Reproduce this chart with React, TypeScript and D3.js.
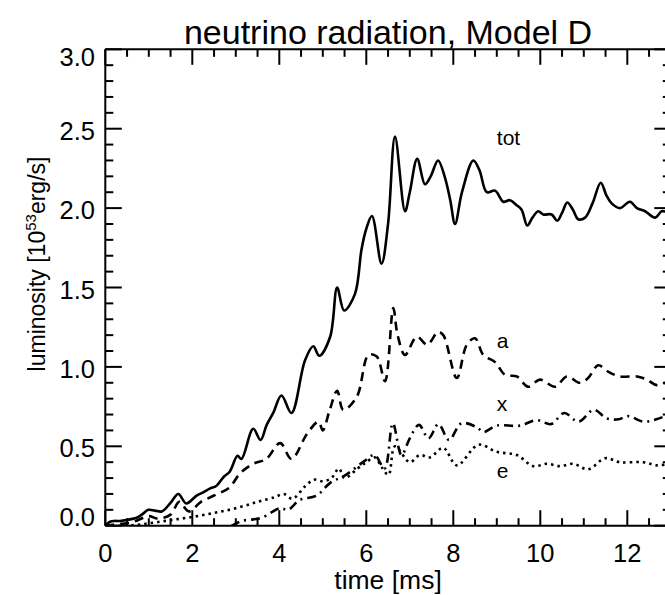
import React from "react";
import * as d3 from "d3";

const totT = [0, 0.11, 0.21, 0.34, 0.49, 0.72, 0.84, 0.99, 1.14, 1.30, 1.49, 1.68, 1.86, 2.10, 2.25, 2.41, 2.55, 2.73, 2.86, 3.04, 3.13, 3.40, 3.57, 3.71, 3.86, 4.05, 4.28, 4.59, 4.78, 4.92, 5.17, 5.33, 5.49, 5.74, 5.89, 6.0, 6.13, 6.35, 6.50, 6.66, 6.89, 7.0, 7.17, 7.35, 7.48, 7.65, 7.80, 7.93, 8.04, 8.2, 8.46, 8.6, 8.77, 8.96, 9.15, 9.30, 9.45, 9.57, 9.70, 9.82, 9.95, 10.07, 10.26, 10.39, 10.50, 10.62, 10.75, 10.87, 11.03, 11.20, 11.39, 11.52, 11.64, 11.83, 12.06, 12.22, 12.41, 12.64, 12.79, 12.95];
const totV = [0, 0.025, 0.03, 0.03, 0.036, 0.05, 0.07, 0.10, 0.095, 0.09, 0.14, 0.20, 0.14, 0.19, 0.21, 0.235, 0.25, 0.31, 0.34, 0.44, 0.42, 0.61, 0.54, 0.635, 0.71, 0.82, 0.71, 1.04, 1.13, 1.07, 1.19, 1.50, 1.355, 1.46, 1.74, 1.87, 1.95, 1.65, 1.90, 2.45, 1.98, 2.10, 2.31, 2.15, 2.20, 2.30, 2.20, 2.05, 1.90, 2.10, 2.30, 2.24, 2.10, 2.11, 2.04, 2.05, 2.02, 1.99, 1.89, 1.94, 1.98, 1.96, 1.96, 1.92, 1.97, 2.035, 1.99, 1.93, 1.94, 2.03, 2.16, 2.08, 2.03, 2.00, 2.04, 2.00, 1.98, 1.94, 1.98, 1.97];

const aT = [0, 0.3, 0.6, 1.0, 1.2, 1.5, 1.7, 1.92, 2.2, 2.5, 2.85, 3.1, 3.4, 3.7, 4.02, 4.28, 4.64, 4.9, 5.0, 5.15, 5.33, 5.47, 5.78, 6.05, 6.24, 6.43, 6.62, 6.72, 6.89, 7.16, 7.4, 7.65, 7.77, 8.08, 8.31, 8.50, 8.69, 8.96, 9.19, 9.46, 9.72, 9.99, 10.34, 10.61, 10.91, 11.1, 11.33, 11.56, 11.83, 12.22, 12.45, 12.68, 12.95];
const aV = [0, 0.01, 0.02, 0.06, 0.045, 0.07, 0.15, 0.09, 0.15, 0.19, 0.24, 0.33, 0.39, 0.42, 0.52, 0.42, 0.58, 0.655, 0.60, 0.72, 0.85, 0.73, 0.81, 1.075, 1.065, 0.91, 1.37, 1.2, 1.075, 1.19, 1.14, 1.22, 1.20, 0.93, 1.14, 1.18, 1.075, 1.03, 0.95, 0.94, 0.875, 0.92, 0.875, 0.94, 0.90, 0.93, 1.01, 0.97, 0.94, 0.94, 0.92, 0.885, 0.91];

const xT = [0, 0.5, 1.0, 1.5, 2.0, 2.5, 2.9, 3.13, 3.4, 3.6, 4.02, 4.2, 4.46, 4.86, 5.17, 5.53, 5.97, 6.19, 6.42, 6.61, 6.81, 7.0, 7.21, 7.43, 7.66, 7.90, 8.19, 8.54, 8.69, 9.0, 9.53, 9.92, 10.25, 10.55, 10.88, 11.23, 11.53, 11.8, 12.02, 12.37, 12.67, 12.95];
const xV = [-0.01, -0.01, -0.01, -0.015, -0.01, -0.01, 0.0, 0.03, 0.04, 0.05, 0.11, 0.10, 0.16, 0.19, 0.27, 0.32, 0.41, 0.445, 0.36, 0.645, 0.445, 0.55, 0.635, 0.55, 0.64, 0.54, 0.645, 0.62, 0.59, 0.63, 0.63, 0.665, 0.64, 0.71, 0.655, 0.73, 0.675, 0.67, 0.69, 0.655, 0.67, 0.70];

const eT = [0, 0.5, 1.0, 1.5, 2.0, 2.5, 3.0, 3.5, 3.9, 4.1, 4.3, 4.6, 4.8, 5.0, 5.2, 5.37, 5.5, 5.8, 6.0, 6.2, 6.35, 6.51, 6.66, 7.0, 7.23, 7.46, 7.77, 8.08, 8.58, 9.0, 9.46, 9.84, 10.15, 10.45, 10.76, 11.1, 11.49, 11.83, 12.37, 12.68, 12.95];
const eV = [0, 0.0, 0.015, 0.035, 0.055, 0.08, 0.11, 0.15, 0.18, 0.20, 0.17, 0.25, 0.29, 0.28, 0.30, 0.36, 0.30, 0.36, 0.40, 0.43, 0.37, 0.32, 0.50, 0.40, 0.445, 0.43, 0.49, 0.38, 0.51, 0.465, 0.445, 0.375, 0.39, 0.375, 0.39, 0.355, 0.425, 0.40, 0.40, 0.38, 0.39];

const xMajor = [0, 2, 4, 6, 8, 10, 12];
const yMajor = [0.0, 0.5, 1.0, 1.5, 2.0, 2.5, 3.0];

const seriesLabels = [
  { name: "tot", t: 9.0, v: 2.4 },
  { name: "a", t: 9.0, v: 1.12 },
  { name: "x", t: 9.0, v: 0.72 },
  { name: "e", t: 9.0, v: 0.30 },
];

const W = 665, H = 595;
const L = 105.3, R = 670.8, T = 49.3, B = 525.7;
const FONT = "'Liberation Sans', Arial, Helvetica, sans-serif";

export default function App() {
  const x = d3.scaleLinear().domain([0, 13]).range([L, R]);
  const y = d3.scaleLinear().domain([0, 3]).range([B, T]);
  const line = d3
    .line<[number, number]>()
    .x((d) => x(d[0]))
    .y((d) => y(d[1]))
    .curve(d3.curveCatmullRom.alpha(0.5));
  const mk = (ts: number[], vs: number[]) => line(ts.map((t, i) => [t, vs[i]] as [number, number])) || "";

  const xMinor = d3.range(0, 13.01, 0.5);
  const yMinor = d3.range(0, 3.001, 0.1);

  return (
    <svg width={W} height={H} style={{ position: "absolute", left: 0, top: 0, background: "#fff" }} fontFamily={FONT}>
      <defs>
        <clipPath id="plot">
          <rect x={L} y={T - 2} width={R - L} height={B - T + 2} />
        </clipPath>
      </defs>
      <rect width={W} height={H} fill="#fff" />
      <text x={(L + R) / 2} y={44} textAnchor="middle" fontSize={34}>
        neutrino radiation, Model D
      </text>
      {/* curves */}
      <g clipPath="url(#plot)" fill="none" stroke="#000" strokeWidth={2.6} strokeLinejoin="round">
        <path d={mk(totT, totV)} />
        <path d={mk(aT, aV)} strokeDasharray="9 6" />
        <path d={mk(xT, xV)} strokeDasharray="9 5 2 5" />
        <path d={mk(eT, eV)} strokeDasharray="2.5 4" />
      </g>
      {/* axes box */}
      <g stroke="#000" strokeWidth={2} fill="none">
        <line x1={L} x2={R} y1={B} y2={B} />
        <line x1={L} x2={R} y1={T} y2={T} />
        <line x1={L} x2={L} y1={T} y2={B} />
        <line x1={R} x2={R} y1={T} y2={B} />
        {xMinor.map((t) => {
          const major = Math.abs(t - Math.round(t / 2) * 2) < 1e-6;
          const len = major ? 15.5 : 7.5;
          return (
            <g key={"xt" + t}>
              <line x1={x(t)} x2={x(t)} y1={B} y2={B - len} />
              <line x1={x(t)} x2={x(t)} y1={T} y2={T + len} />
            </g>
          );
        })}
        {yMinor.map((v) => {
          const major = Math.abs(v * 2 - Math.round(v * 2)) < 1e-6;
          const len = major ? 16.5 : 8;
          return (
            <g key={"yt" + v.toFixed(1)}>
              <line x1={L} x2={L + len} y1={y(v)} y2={y(v)} />
              <line x1={R} x2={R - len} y1={y(v)} y2={y(v)} />
            </g>
          );
        })}
      </g>
      {/* tick labels */}
      <g fontSize={25.5} fill="#000">
        {xMajor.map((t) => (
          <text key={"xl" + t} x={x(t)} y={562} textAnchor="middle">
            {t}
          </text>
        ))}
        {yMajor.map((v) => (
          <text key={"yl" + v} x={95} y={Math.min(B, Math.max(T + 17, y(v) + 11))} textAnchor="end">
            {v.toFixed(1)}
          </text>
        ))}
      </g>
      <text x={(L + R) / 2} y={589} textAnchor="middle" fontSize={26.5}>
        time [ms]
      </text>
      <text transform={`translate(45, ${264}) rotate(-90)`} textAnchor="middle" fontSize={23}>
        luminosity [10<tspan fontSize={15} dy={-9}>53</tspan>
        <tspan dy={9}>erg/s]</tspan>
      </text>
      <g fontSize={21}>
        {seriesLabels.map((s) => (
          <text key={s.name} x={x(s.t)} y={y(s.v)}>
            {s.name}
          </text>
        ))}
      </g>
    </svg>
  );
}
